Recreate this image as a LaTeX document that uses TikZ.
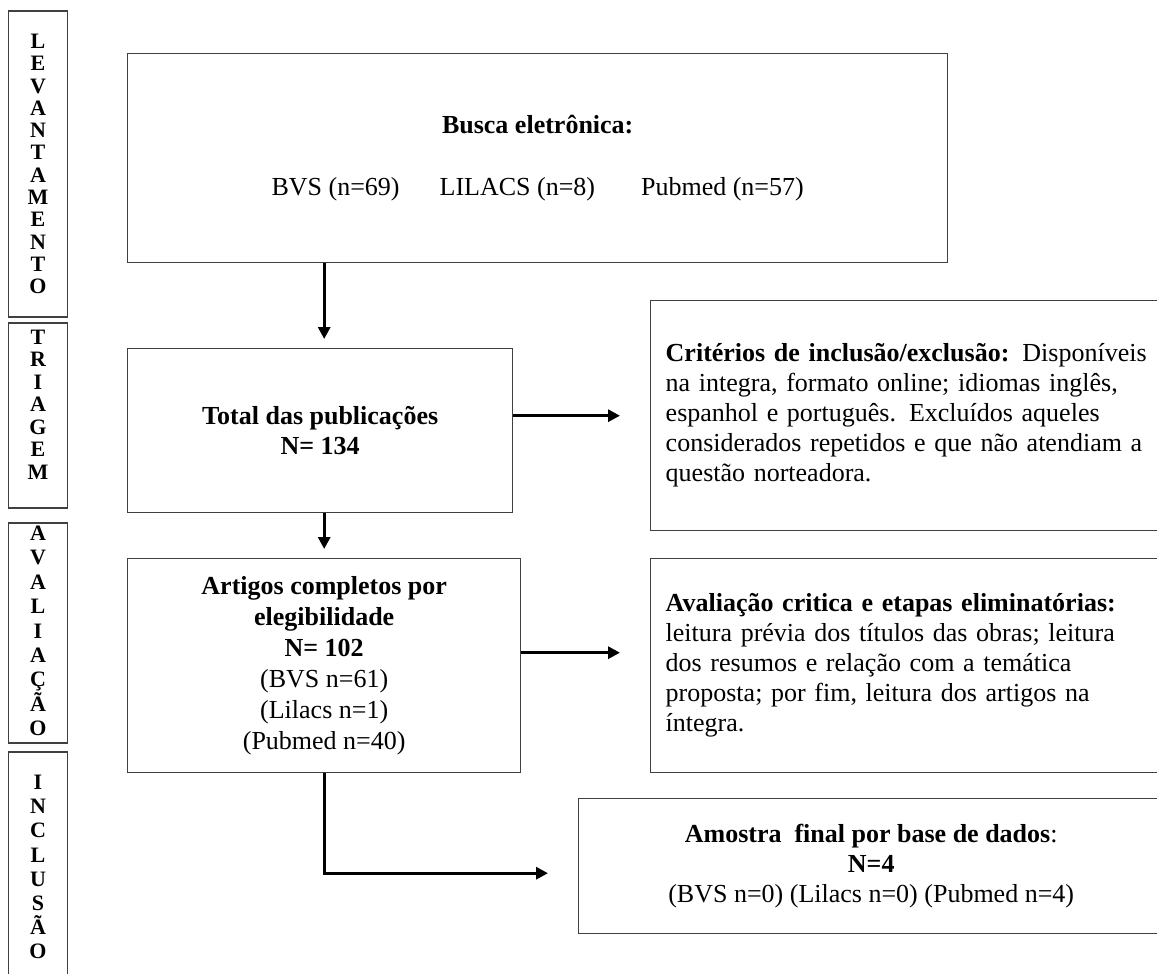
\documentclass[tikz,border=0pt]{standalone}
\usepackage{fontspec}
\setmainfont{Liberation Serif}
\usetikzlibrary{arrows.meta, positioning, calc}
\tikzset{
    stagebar/.style={rectangle, draw=black!75, line width=1.4pt, minimum width=59pt, inner sep=0pt},
    stageletters/.style={align=center, inner sep=0pt, font=\fontsize{22}{22.3}\selectfont\bfseries},
    flowbox/.style={rectangle, draw=black!75, line width=1.4pt, align=center, inner sep=0pt, font=\fontsize{26}{30}\selectfont},
    notebox/.style={flowbox, align=left, text width=485pt, inner xsep=15pt},
    arrow/.style={-{Triangle[length=12pt,width=12pt]}, line width=3pt, black},
}

\begin{document}
\begin{tikzpicture}[x=1pt, y=-1pt]
\path[use as bounding box, clip] (0,0) rectangle (1157,974);

% stages on the left
\node[stagebar, minimum height=306pt] (lev) at (38,164) {};
\node[stageletters] (levtxt) at (38,164) {L\\E\\V\\A\\N\\T\\A\\M\\E\\N\\T\\O};
\node[stagebar, minimum height=185pt] (tri) at (38,415.5) {};
\node[stageletters, font=\fontsize{22}{22.5}\selectfont\bfseries] (tritxt) at (38,404.5) {T\\R\\I\\A\\G\\E\\M};
\node[stagebar, minimum height=220pt] (ava) at (38,633) {};
\node[stageletters, font=\fontsize{22}{24.4}\selectfont\bfseries] (avatxt) at (38,631) {A\\V\\A\\L\\I\\A\\Ç\\Ã\\O};
\node[stagebar, minimum height=240pt] (inc) at (38,872) {};
\node[stageletters, font=\fontsize{22}{24.2}\selectfont\bfseries] (inctxt) at (38,867) {I\\N\\C\\L\\U\\S\\Ã\\O};

% flow boxes
\node[flowbox, anchor=north west, minimum width=820pt, minimum height=209pt] (busca) at (127,53)
  {\textbf{Busca eletrônica:}\\[32pt]BVS (n=69)\hspace{40pt}LILACS (n=8)\hspace{46pt}Pubmed (n=57)};
\node[flowbox, anchor=north west, minimum width=385pt, minimum height=164pt] (total) at (127,348)
  {\textbf{Total das publicações}\\\textbf{N= 134}};
\node[flowbox, anchor=north west, minimum width=393pt, minimum height=214pt, font=\fontsize{26}{31}\selectfont] (artigos) at (127,558)
  {\textbf{Artigos completos por}\\\textbf{elegibilidade}\\\textbf{N= 102}\\(BVS n=61)\\(Lilacs n=1)\\(Pubmed n=40)};
\node[notebox, anchor=north west, minimum height=230pt] (crit) at (650,300)
  {\makebox[485pt][s]{\textbf{Critérios de inclusão/exclusão:} Disponíveis}\\
   \makebox[485pt][s]{na integra, formato online; idiomas inglês,}\\
   \makebox[485pt][s]{espanhol e português. Excluídos aqueles}\\
   \makebox[485pt][s]{considerados repetidos e que não atendiam a}\\
   questão norteadora.};
\node[notebox, anchor=north west, minimum height=214pt] (aval) at (650,558)
  {\makebox[485pt][s]{\textbf{Avaliação critica e etapas eliminatórias:}}\\
   \makebox[485pt][s]{leitura prévia dos títulos das obras; leitura}\\
   \makebox[485pt][s]{dos resumos e relação com a temática}\\
   \makebox[485pt][s]{proposta; por fim, leitura dos artigos na}\\
   íntegra.};
\node[flowbox, anchor=north west, minimum width=585pt, minimum height=135pt] (amostra) at (578,798)
  {\textbf{Amostra\ \ final por base de dados}:\\\textbf{N=4}\\(BVS n=0) (Lilacs n=0) (Pubmed n=4)};

% connectors
\draw[arrow, shorten >=9pt] (busca.south -| artigos.north) -- (total.north -| artigos.north);
\draw[arrow, shorten >=9pt] (total.south -| artigos.north) -- (artigos.north);
\draw[arrow, shorten >=30pt] (crit.west -| total.east) -- (crit.west);
\draw[arrow, shorten >=30pt] ([yshift=13pt]aval.west -| artigos.east) -- ([yshift=13pt]aval.west);
\draw[arrow, shorten >=30pt] (artigos.south) |- ([yshift=-7pt]amostra.west);
\end{tikzpicture}
\end{document}
